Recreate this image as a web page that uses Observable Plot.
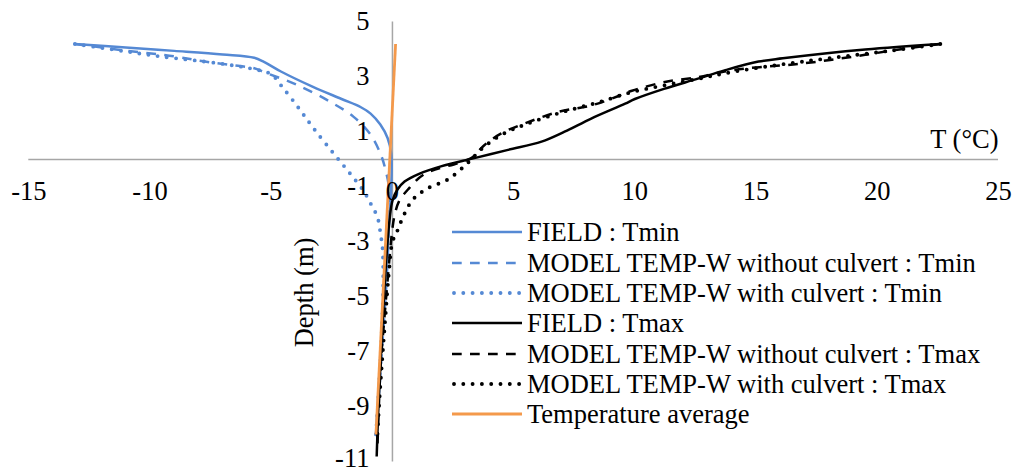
<!DOCTYPE html>
<html>
<head>
<meta charset="utf-8">
<script src="https://cdn.jsdelivr.net/npm/d3@7"></script>
<script src="https://cdn.jsdelivr.net/npm/@observablehq/plot@0.6"></script>
<style>
  html, body { margin: 0; padding: 0; background: #fff; }
  #wrap { position: relative; width: 1013px; height: 472px; overflow: hidden; font-family: "Liberation Serif", "Times New Roman", serif; }
  #legend { position: absolute; left: 0; top: 0; }
  .row { position: absolute; left: 452px; height: 30px; display: flex; align-items: center; white-space: nowrap; }
  .row svg { display: block; }
  .row span { margin-left: 5px; font-size: 26.5px; color: #000; line-height: 30px; }
</style>
</head>
<body>
<div id="wrap"></div>
<script>
// ---- data (temperature °C, depth m) ----
const xTicks = [-15, -10, -5, 0, 5, 10, 15, 20, 25];
const yTicks = [5, 3, 1, -1, -3, -5, -7, -9, -11];

const fieldTminT = [-13.1, -11, -9, -7, -5.7, -5.3, -4.6, -3.3, -2.1, -1.3, -0.9, -0.5, -0.2, -0.05, -0.05, -0.15, -0.3, -0.45, -0.58, -0.68];
const fieldTminD = [4.2, 4.07, 3.95, 3.82, 3.7, 3.55, 3.2, 2.65, 2.2, 1.9, 1.67, 1.27, 0.78, 0.2, -1.0, -2.5, -4.5, -6.5, -8.5, -10.0];

const noCulvTminT = [-13.1, -11, -9, -7.8, -6.5, -5.7, -5.3, -3.9, -2.55, -1.6, -0.9, -0.48, -0.27, -0.15, -0.15, -0.25, -0.4, -0.55, -0.68];
const noCulvTminD = [4.2, 3.96, 3.75, 3.57, 3.42, 3.32, 3.18, 2.7, 2.09, 1.55, 0.9, 0.18, -0.43, -1.0, -2.5, -4.5, -6.5, -8.5, -10.0];

const culvTminT = [-13.1, -11, -9.6, -7.2, -5.8, -5.0, -4.6, -3.9, -3.25, -2.27, -1.72, -1.18, -0.9, -0.61, -0.48, -0.41, -0.38, -0.45, -0.57, -0.68];
const culvTminD = [4.2, 3.93, 3.75, 3.5, 3.3, 3.1, 2.7, 1.91, 1.13, 0.05, -0.54, -1.16, -1.6, -2.12, -2.78, -3.2, -4.5, -6.5, -8.5, -10.0];

const fieldTmaxT = [22.6, 19.5, 16.1, 15.1, 13.7, 12.6, 11.2, 10.0, 9.6, 8.2, 7.1, 6.15, 4.77, 3.38, 2.0, 1.1, 0.5, 0.2, 0.0, -0.12, -0.22, -0.35, -0.47, -0.58, -0.65];
const fieldTmaxD = [4.2, 4.0, 3.68, 3.56, 3.24, 2.94, 2.57, 2.2, 2.03, 1.49, 1.01, 0.65, 0.35, 0.05, -0.25, -0.52, -0.8, -1.1, -1.5, -2.2, -3.2, -5.0, -7.0, -9.0, -10.8];

const noCulvTmaxT = [22.6, 20.9, 18.85, 16.8, 14.7, 13.7, 12.64, 11.24, 9.88, 9.3, 8.22, 6.84, 5.45, 4.49, 3.8, 3.25, 2.7, 1.3, 0.63, 0.27, 0.1, 0.0, -0.2, -0.34, -0.48, -0.57, -0.62];
const noCulvTmaxD = [4.2, 4.0, 3.72, 3.48, 3.32, 3.2, 3.0, 2.82, 2.5, 2.3, 1.97, 1.73, 1.31, 0.95, 0.53, 0.05, -0.13, -0.54, -1.1, -1.52, -1.99, -2.5, -4.4, -5.85, -7.4, -9.2, -10.5];

const culvTmaxT = [22.6, 20.5, 18.0, 16.0, 14.0, 12.64, 11.24, 9.88, 8.5, 7.0, 5.5, 4.5, 3.7, 3.1, 2.3, 1.45, 0.85, 0.48, 0.2, 0.0, -0.15, -0.28, -0.4, -0.52, -0.62];
const culvTmaxD = [4.2, 3.95, 3.68, 3.45, 3.18, 2.94, 2.7, 2.45, 2.08, 1.72, 1.28, 0.9, 0.4, -0.13, -0.72, -1.05, -1.45, -2.0, -2.6, -3.0, -4.15, -5.6, -7.0, -8.5, -10.0];

const avgT = [0.13, -0.68];
const avgD = [4.2, -10.0];

const seriesNames = [
  "FIELD : Tmin",
  "MODEL TEMP-W without culvert : Tmin",
  "MODEL TEMP-W with culvert : Tmin",
  "FIELD : Tmax",
  "MODEL TEMP-W without culvert : Tmax",
  "MODEL TEMP-W with culvert : Tmax",
  "Temperature average"
];

// ---- styles ----
const BLUE = "#5589D4", BLACK = "#000000", ORANGE = "#F4994B", GRAY = "#A6A6A6";
const solid = {dash: null, width: 2.5, cap: "butt"};
const dashed = {dash: "9.7,8.3", width: 2.5, cap: "butt"};
const dotted = {dash: "0,9.3", width: 3.9, cap: "round"};

const series = [
  {name: seriesNames[0], T: fieldTminT, D: fieldTminD, color: BLUE, style: solid},
  {name: seriesNames[1], T: noCulvTminT, D: noCulvTminD, color: BLUE, style: dashed},
  {name: seriesNames[2], T: culvTminT, D: culvTminD, color: BLUE, style: dotted},
  {name: seriesNames[3], T: fieldTmaxT, D: fieldTmaxD, color: BLACK, style: solid},
  {name: seriesNames[4], T: noCulvTmaxT, D: noCulvTmaxD, color: BLACK, style: dashed},
  {name: seriesNames[5], T: culvTmaxT, D: culvTmaxD, color: BLACK, style: dotted},
  {name: seriesNames[6], T: avgT, D: avgD, color: ORANGE, style: {dash: null, width: 2.8, cap: "butt"}}
];

const FONT = "'Liberation Serif', 'Times New Roman', serif";
const FS = 26.5;

const lineMarks = series.map(s => Plot.line(
  s.T.map((t, i) => ({t, d: s.D[i]})),
  {
    x: "t", y: "d",
    curve: "catmull-rom",
    stroke: s.color,
    strokeWidth: s.style.width,
    strokeDasharray: s.style.dash,
    strokeLinecap: s.style.cap,
    strokeLinejoin: "round"
  }
));

const yTicksUpper = yTicks.slice(0, -1);
const yTickLowest = yTicks.slice(-1);

const plot = Plot.plot({
  width: 1013,
  height: 472,
  marginLeft: 28.3,
  marginRight: 15,
  marginTop: 21.5,
  marginBottom: 10.5,
  x: {domain: [-15, 25], axis: null},
  y: {domain: [-11, 5], axis: null},
  style: {fontFamily: FONT, background: "#fff", overflow: "visible"},
  marks: [
    Plot.ruleY([0], {x1: xTicks[0], x2: xTicks[xTicks.length - 1], stroke: GRAY, strokeWidth: 1.5}),
    Plot.ruleX([0], {y1: yTicks[yTicks.length - 1], y2: yTicks[0], stroke: GRAY, strokeWidth: 1.5}),
    ...lineMarks,
    Plot.text(xTicks, {x: d => d, y: 0, text: d => String(d), dy: 32, fontSize: FS, fill: "#000", fontFamily: FONT, lineAnchor: "middle"}),
    Plot.text(yTicksUpper, {x: 0, y: d => d, text: d => String(d), dx: -23, textAnchor: "end", fontSize: FS, fill: "#000", fontFamily: FONT}),
    Plot.text(yTickLowest, {x: 0, y: d => d, text: d => String(d), dx: -23, dy: -3, textAnchor: "end", fontSize: FS, fill: "#000", fontFamily: FONT}),
    Plot.text(["T (°C)"], {x: xTicks[xTicks.length - 1], y: 0, text: d => d, textAnchor: "end", lineAnchor: "bottom", dy: -12, fontSize: FS, fill: "#000", fontFamily: FONT}),
    Plot.text(["Depth (m)"], {frameAnchor: "middle", text: d => d, rotate: -90, dx: -209, dy: 50.5, fontSize: FS, fill: "#000", fontFamily: FONT})
  ]
});

const wrap = document.getElementById("wrap");
wrap.appendChild(plot);

// ---- legend ----
const legend = document.createElement("div");
legend.id = "legend";
const rowCenters = [232.3, 262.7, 293, 323.3, 353.5, 384, 414.3];
series.forEach((s, i) => {
  const row = document.createElement("div");
  row.className = "row";
  row.style.top = (rowCenters[i] - 15) + "px";
  const ns = "http://www.w3.org/2000/svg";
  const svg = document.createElementNS(ns, "svg");
  svg.setAttribute("width", 70);
  svg.setAttribute("height", 30);
  const ln = document.createElementNS(ns, "line");
  const inset = s.style === dotted ? 2 : 0;
  ln.setAttribute("x1", inset); ln.setAttribute("x2", 70 - inset);
  ln.setAttribute("y1", 15); ln.setAttribute("y2", 15);
  ln.setAttribute("stroke", s.color);
  ln.setAttribute("stroke-width", s.style.width);
  if (s.style.dash) ln.setAttribute("stroke-dasharray", s.style.dash);
  ln.setAttribute("stroke-linecap", s.style.cap);
  svg.appendChild(ln);
  const span = document.createElement("span");
  span.textContent = s.name;
  row.appendChild(svg);
  row.appendChild(span);
  legend.appendChild(row);
});
wrap.appendChild(legend);
</script>
</body>
</html>
